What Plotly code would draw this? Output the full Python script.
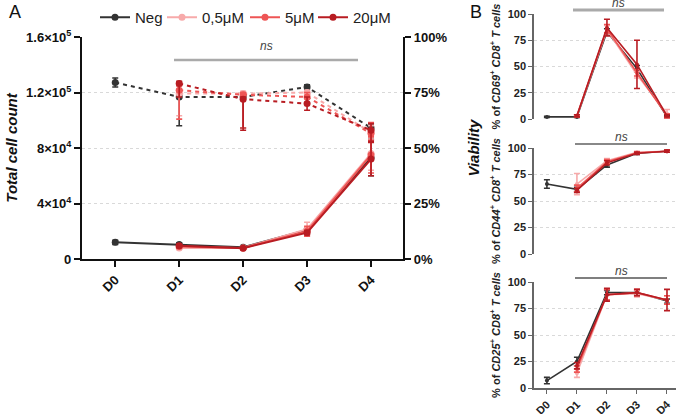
import plotly.graph_objects as go

days = ["D0", "D1", "D2", "D3", "D4"]
tdays = ["D1", "D2", "D3", "D4"]
groups = ["Neg", "0,5μM", "5μM", "20μM"]
colors = ["#333333", "#F7AAAA", "#EE5555", "#B81C22"]

# Panel A: total cell count (mean, err)
count_neg = [12000, 10500, 8500, 21000, 73000]
count_neg_err = [1500, 1200, 800, 1500, 13000]
count_05 = [8000, 8000, 21500, 76000]
count_05_err = [1000, 700, 5000, 12000]
count_5 = [9000, 8000, 20000, 75000]
count_5_err = [1200, 700, 3500, 13000]
count_20 = [9500, 7800, 19000, 72000]
count_20_err = [1200, 700, 1500, 12000]

# Panel A: viability (%)
via_neg = [79.5, 73, 73, 77.5, 59]
via_neg_up = [2, 1, 1, 1, 2]
via_neg_dn = [2, 13, 14, 1, 5]
via_05 = [74.5, 74.5, 75, 57]
via_05_up = [2, 1, 1, 3]
via_05_dn = [10, 2, 3, 3]
via_5 = [76, 74, 73, 56.5]
via_5_up = [2, 1, 2, 5]
via_5_dn = [13, 15, 3, 3]
via_20 = [79, 72, 70, 58]
via_20_up = [1, 1, 3, 3]
via_20_dn = [6, 14, 3, 5]

# Panel B: % of CD69+ CD8+ T cells
cd69_neg = [2, 2, 83, 48, 2]
cd69_neg_err = [0.5, 0.5, 3, 3, 1]
cd69_05 = [3, 85, 42, 5]
cd69_05_err = [1, 4, 3, 4]
cd69_5 = [3, 86, 44, 3]
cd69_5_err = [1, 4, 3, 2]
cd69_20 = [3, 87, 52, 3]
cd69_20_err = [1, 8, 23, 1]

# Panel B: % of CD44+ CD8+ T cells
cd44_neg = [66, 61, 84, 95, 97]
cd44_neg_err = [4, 2, 2, 1, 1]
cd44_05 = [66, 88, 96, 97]
cd44_05_err = [10, 2, 1, 1]
cd44_5 = [62, 87, 95.5, 97]
cd44_5_err = [3, 2, 1, 1]
cd44_20 = [60, 86, 95, 97]
cd44_20_err = [2, 2, 1, 1]

# Panel B: % of CD25+ CD8+ T cells
cd25_neg = [7, 25, 90, 90, 82]
cd25_neg_err = [3, 4, 2, 2, 2]
cd25_05 = [14, 88, 89, 83]
cd25_05_err = [4, 5, 3, 4]
cd25_5 = [18, 88, 90, 83]
cd25_5_err = [3, 5, 3, 4]
cd25_20 = [21, 88, 90, 83]
cd25_20_err = [3, 6, 3, 10]

FONT = "Arial, Liberation Sans, sans-serif"
fig = go.Figure()


def add(x, y, up, dn, color, xa, ya, dash="solid", size=7, width=2, name=None, legend=None):
    fig.add_trace(go.Scatter(
        x=x, y=y, mode="lines+markers", name=name, showlegend=legend is not None,
        legend=legend or "legend",
        line=dict(color=color, width=width, dash=dash),
        marker=dict(color=color, size=size),
        error_y=dict(type="data", symmetric=False, array=up, arrayminus=dn,
                     color=color, thickness=1.6, width=3),
        xaxis=xa, yaxis=ya, cliponaxis=False,
    ))


# Panel A: viability dashed (right axis)
via = [(days, via_neg, via_neg_up, via_neg_dn), (tdays, via_05, via_05_up, via_05_dn),
       (tdays, via_5, via_5_up, via_5_dn), (tdays, via_20, via_20_up, via_20_dn)]
for (x, y, u, d), c in zip(via, colors):
    add(x, y, u, d, c, "x", "y2", dash="4px,4px", size=7, width=2)

# Panel A: counts solid (left axis)
legend_ids = ["legend", "legend2", "legend3", "legend4"]
cnt = [(days, count_neg, count_neg_err), (tdays, count_05, count_05_err),
       (tdays, count_5, count_5_err), (tdays, count_20, count_20_err)]
for (x, y, e), c, g, lg in zip(cnt, colors, groups, legend_ids):
    add(x, y, e, e, c, "x", "y", size=7, width=2, name=g, legend=lg)

# Panel B
panels = [
    ("x2", "y3", [(days, cd69_neg, cd69_neg_err), (tdays, cd69_05, cd69_05_err),
                  (tdays, cd69_5, cd69_5_err), (tdays, cd69_20, cd69_20_err)]),
    ("x3", "y4", [(days, cd44_neg, cd44_neg_err), (tdays, cd44_05, cd44_05_err),
                  (tdays, cd44_5, cd44_5_err), (tdays, cd44_20, cd44_20_err)]),
    ("x4", "y5", [(days, cd25_neg, cd25_neg_err), (tdays, cd25_05, cd25_05_err),
                  (tdays, cd25_5, cd25_5_err), (tdays, cd25_20, cd25_20_err)]),
]
for xa, ya, series in panels:
    for (x, y, e), c in zip(series, colors):
        add(x, y, e, e, c, xa, ya, size=4, width=1.6)

W, H = 685, 414
def px(v): return v / W
def py(v): return 1 - v / H

tickA = dict(family=FONT, size=13, color="#111", weight="bold")
tickB = dict(family=FONT, size=11, color="#222", weight="bold")

xA = dict(domain=[px(82), px(403)], range=[-0.52, 4.5], type="category",
          showline=True, linecolor="#111", linewidth=2.2, ticks="outside", ticklen=6,
          tickwidth=2, tickcolor="#111", tickangle=-45, tickfont=tickA, showgrid=False,
          zeroline=False, anchor="y", automargin=False)
yA = dict(domain=[py(259), py(37)], range=[0, 160000],
          tickvals=[0, 40000, 80000, 120000, 160000],
          ticktext=["0", "4×10<sup>4</sup>", "8×10<sup>4</sup>", "1.2×10<sup>5</sup>", "1.6×10<sup>5</sup>"],
          showline=True, linecolor="#111", linewidth=2.2, ticks="outside", ticklen=6,
          tickwidth=2, tickcolor="#111", tickfont=tickA, showgrid=True,
          gridcolor="#d9d9d9", griddash="dot", gridwidth=1, zeroline=False, anchor="x",
          automargin=False,
          title=dict(text="<b><i>Total cell count</i></b>", font=dict(family=FONT, size=15, color="#111"),
                     standoff=5))
yA2 = dict(overlaying="y", side="right", range=[0, 100], tickvals=[0, 25, 50, 75, 100],
           ticktext=["0%", "25%", "50%", "75%", "100%"],
           showline=True, linecolor="#111", linewidth=2.2, ticks="outside",
           ticklen=6, tickwidth=2, tickcolor="#111", tickfont=tickA, showgrid=False,
           zeroline=False, anchor="x", automargin=False,
           title=dict(text="<b><i>Viability</i></b>", font=dict(family=FONT, size=15, color="#111"),
                      standoff=22))

def xB(ya, show):
    return dict(domain=[px(534), px(676)], range=[-0.43, 4.3], type="category",
                anchor=ya, showline=show, linecolor="#666", linewidth=1.5,
                ticks="outside" if show else "", ticklen=4, tickcolor="#666",
                tickangle=-45, tickfont=tickB, showticklabels=show, showgrid=False,
                zeroline=False, automargin=False)

def yB(xa, top, bot, label):
    return dict(domain=[py(bot), py(top)], range=[0, 100], tickvals=[0, 25, 50, 75, 100],
                anchor=xa, showline=True, linecolor="#666", linewidth=1.5, ticks="outside",
                ticklen=4, tickcolor="#666", tickfont=tickB, showgrid=True,
                gridcolor="#d9d9d9", griddash="dot", zeroline=False, automargin=False,
                title=dict(text=f"<b>% of <i>{label}</i></b>",
                           font=dict(family=FONT, size=11, color="#222"), standoff=5))

def leg(xpix):
    return dict(orientation="h", x=px(xpix), y=py(1), xanchor="left", yanchor="top",
                font=dict(family=FONT, size=15, color="#222"), itemwidth=30,
                bgcolor="rgba(0,0,0,0)")

fig.update_layout(
    width=W, height=H, margin=dict(l=0, r=0, t=0, b=0),
    plot_bgcolor="white", paper_bgcolor="white",
    font=dict(family=FONT, color="#111"),
    xaxis=xA, yaxis=yA, yaxis2=yA2,
    xaxis2=xB("y3", False), yaxis3=yB("x2", 14, 119, "CD69<sup>+</sup> CD8<sup>+</sup> T cells"),
    xaxis3=xB("y4", False), yaxis4=yB("x3", 148, 254, "CD44<sup>+</sup> CD8<sup>+</sup> T cells"),
    xaxis4=xB("y5", True), yaxis5=yB("x4", 282, 388, "CD25<sup>+</sup> CD8<sup>+</sup> T cells"),
    legend=leg(95), legend2=leg(162), legend3=leg(245), legend4=leg(313),
    showlegend=True,
)

# ns bars
ns = [(174, 358, 60, 46, "#aaaaaa", 2.5),
      (573, 664, 10, 3, "#aaaaaa", 3),
      (575, 667, 144, 137, "#888888", 2),
      (575, 667, 278, 271, "#555555", 1.5)]
for x0, x1, yl, yt, c, w in ns:
    fig.add_shape(type="line", xref="paper", yref="paper", x0=px(x0), x1=px(x1),
                  y0=py(yl), y1=py(yl), line=dict(color=c, width=w))
    fig.add_annotation(text="<i>ns</i>", xref="paper", yref="paper", x=px((x0 + x1) / 2),
                       y=py(yt), showarrow=False, font=dict(family=FONT, size=12, color="#444"),
                       xanchor="center", yanchor="middle")

fig.add_annotation(text="A", xref="paper", yref="paper", x=px(7), y=py(12), showarrow=False,
                   xanchor="left", yanchor="middle", font=dict(family=FONT, size=18, color="#111"))
fig.add_annotation(text="B", xref="paper", yref="paper", x=px(468), y=py(12), showarrow=False,
                   xanchor="left", yanchor="middle", font=dict(family=FONT, size=18, color="#111"))

fig.write_html("out.html", config={"displayModeBar": False},
               post_script="document.body.style.margin='0px';document.body.style.overflow='hidden';")
